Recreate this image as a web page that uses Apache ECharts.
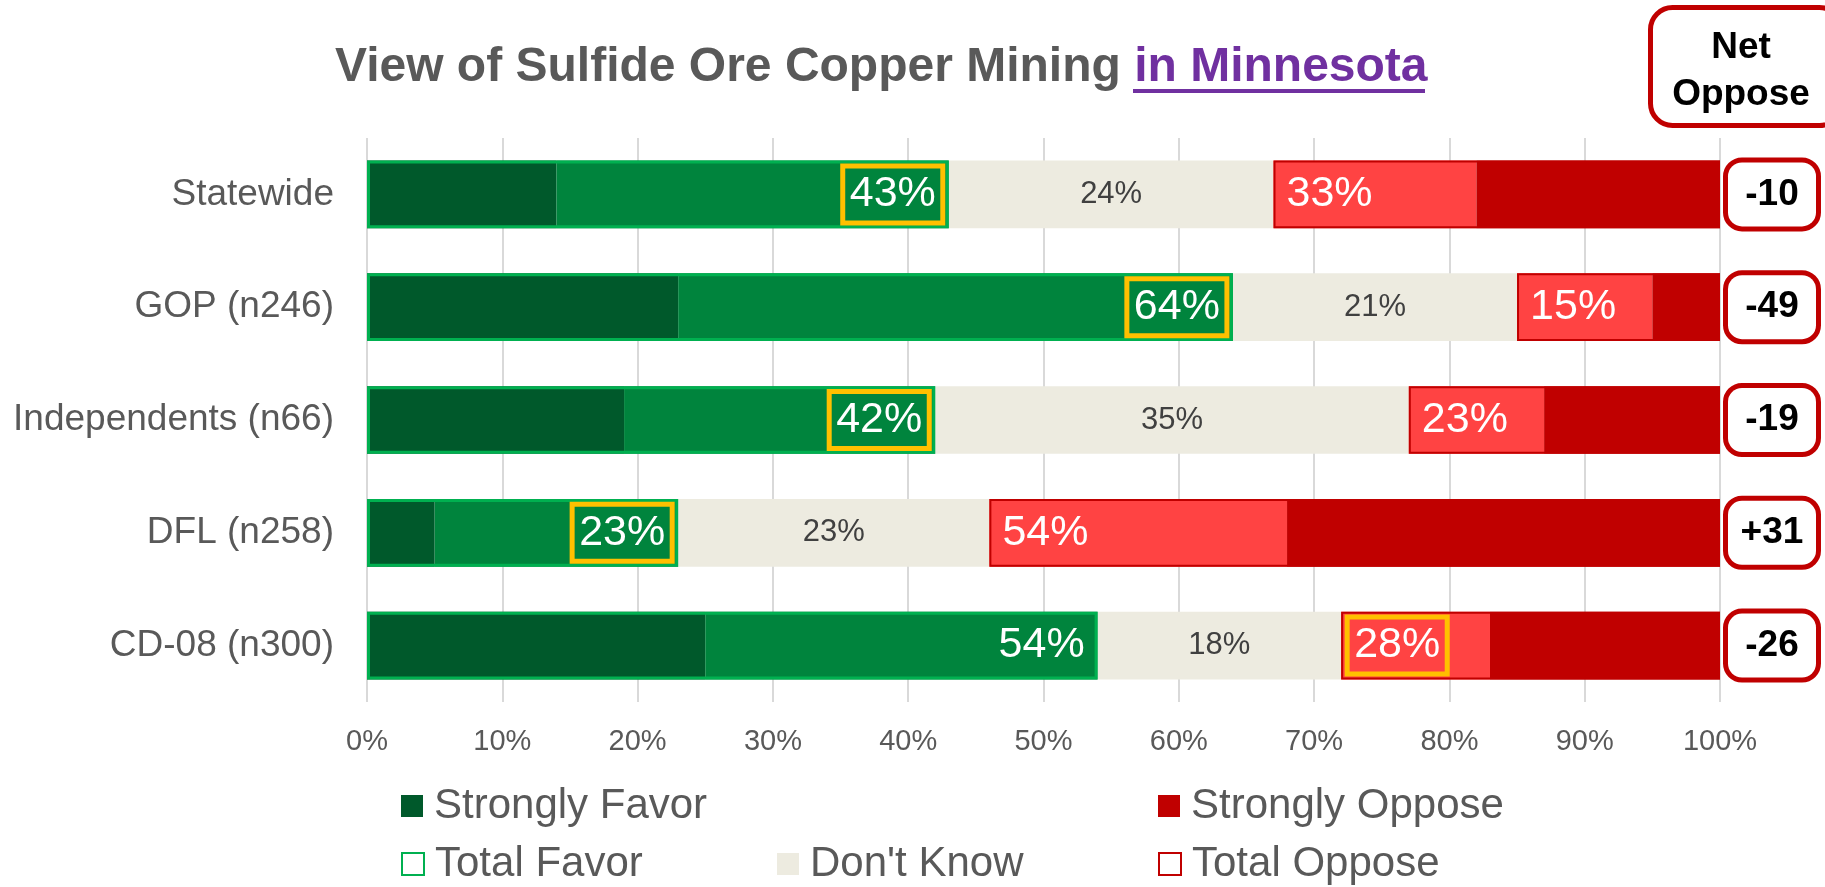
<!DOCTYPE html>
<html>
<head>
<meta charset="utf-8">
<title>View of Sulfide Ore Copper Mining in Minnesota</title>
<script src="https://cdn.jsdelivr.net/npm/echarts@6/dist/echarts.min.js"></script>
<style>
  html, body { margin: 0; padding: 0; background: #fff; }
  #chart { width: 1825px; height: 887px; }
</style>
</head>
<body>
<div id="chart"></div>
<script>
const categories = ['Statewide', 'GOP (n246)', 'Independents (n66)', 'DFL (n258)', 'CD-08 (n300)'];
const stronglyFavor = [14, 23, 19, 5, 25];
const totalFavor = [43, 64, 42, 23, 54];
const dontKnow = [24, 21, 35, 23, 18];
const totalOppose = [33, 15, 23, 54, 28];
const stronglyOppose = [18, 5, 13, 32, 17];
const netOppose = ['-10', '-49', '-19', '+31', '-26'];
// which total carries the yellow call-out box
const favorBoxed = [true, true, true, true, false];
const opposeBoxed = [false, false, false, false, true];

const FONT = "'Liberation Sans', Arial, sans-serif";
const GREY = '#595959';

const chart = echarts.init(document.getElementById('chart'));

function boxed(flag) {
  return {borderColor: flag ? '#FFC000' : 'rgba(0,0,0,0)'};
}

function bar(name, stack, data, itemStyle, extra) {
  return Object.assign({
    name: name,
    type: 'bar',
    stack: stack,
    data: data,
    barGap: '-100%',
    barCategoryGap: '40%',
    itemStyle: itemStyle,
    emphasis: {disabled: true}
  }, extra || {});
}

const totalLabel = {
  show: true,
  formatter: '{c}%',
  color: '#fff',
  fontSize: 43,
  lineHeight: 43,
  fontFamily: FONT,
  padding: [7, 7],
  borderWidth: 5,
  distance: 6
};

const legendRows = [
  {name: 'Strongly Favor', left: 401, top: 785},
  {name: 'Strongly Oppose', left: 1158, top: 785},
  {name: 'Total Favor', left: 401, top: 843},
  {name: "Don't Know", left: 777, top: 843},
  {name: 'Total Oppose', left: 1158, top: 843}
];

const option = {
  animation: false,
  textStyle: {fontFamily: FONT},
  title: [
    {
      text: '{a|View of Sulfide Ore Copper Mining }{b|in Minnesota}',
      left: 335,
      top: 44,
      padding: 0,
      textStyle: {
        rich: {
          a: {fontSize: 48, fontWeight: 'bold', color: GREY, fontFamily: FONT},
          b: {fontSize: 48, fontWeight: 'bold', color: '#7030A0', fontFamily: FONT}
        }
      }
    },
    {
      text: 'Net\nOppose',
      left: 1719,
      top: 7,
      textAlign: 'center',
      padding: [17, 32, 8, 22],
      borderColor: '#C00000',
      borderWidth: 5,
      borderRadius: 22,
      backgroundColor: '#fff',
      textStyle: {fontSize: 37, fontWeight: 'bold', color: '#000', lineHeight: 47, fontFamily: FONT}
    }
  ],
  graphic: [
    {type: 'rect', left: 1133, top: 89, shape: {width: 292, height: 4}, style: {fill: '#7030A0'}}
  ],
  legend: legendRows.map(r => ({
    data: [r.name],
    left: r.left,
    top: r.top,
    padding: 0,
    icon: 'rect',
    itemWidth: 22,
    itemHeight: 22,
    selectedMode: false,
    textStyle: {fontSize: 42, color: GREY, fontFamily: FONT, padding: [0, 0, 0, 6]}
  })),
  grid: {left: 367, right: 105, top: 138, bottom: 185},
  xAxis: {
    type: 'value',
    min: 0,
    max: 100,
    interval: 10,
    axisLine: {show: false},
    axisTick: {show: false},
    splitLine: {lineStyle: {color: '#D9D9D9', width: 2}},
    axisLabel: {formatter: '{value}%', fontSize: 29, color: GREY, margin: 25}
  },
  yAxis: [
    {
      type: 'category',
      inverse: true,
      data: categories,
      axisLine: {show: false},
      axisTick: {show: false},
      axisLabel: {fontSize: 37, color: GREY, margin: 33}
    },
    {
      type: 'category',
      inverse: true,
      position: 'right',
      data: netOppose,
      axisLine: {show: false},
      axisTick: {show: false},
      axisLabel: {
        margin: 52,
        align: 'center',
        fontSize: 37,
        fontWeight: 'bold',
        color: '#000',
        backgroundColor: '#fff',
        borderColor: '#C00000',
        borderWidth: 5,
        borderRadius: 14,
        width: 72,
        lineHeight: 40,
        padding: [10, 8, 14, 8]
      }
    }
  ],
  series: [
    bar('Strongly Favor', 'fill', stronglyFavor, {color: '#00592B'}),
    bar('Favor', 'fill', totalFavor.map((v, i) => v - stronglyFavor[i]), {color: '#00843D'}),
    bar("Don't Know", 'fill', dontKnow, {color: '#EDEBE0'}, {
      label: {show: true, position: 'inside', formatter: '{c}%', fontSize: 31, color: '#404040'}
    }),
    bar('Oppose', 'fill', totalOppose.map((v, i) => v - stronglyOppose[i]), {color: '#FF4343'}),
    bar('Strongly Oppose', 'fill', stronglyOppose, {color: '#C00000'}),
    bar('Total Favor', 'outline',
      totalFavor.map((v, i) => ({value: v, label: boxed(favorBoxed[i])})),
      {color: 'rgba(0,0,0,0)', borderColor: '#00B050', borderWidth: 3},
      {label: Object.assign({position: 'insideRight'}, totalLabel)}),
    bar('gap', 'outline', dontKnow, {color: 'rgba(0,0,0,0)'}, {silent: true}),
    bar('Total Oppose', 'outline',
      totalOppose.map((v, i) => ({value: v, label: boxed(opposeBoxed[i])})),
      {color: 'rgba(0,0,0,0)', borderColor: '#C00000', borderWidth: 2},
      {label: Object.assign({position: 'insideLeft'}, totalLabel)})
  ]
};

chart.setOption(option);
</script>
</body>
</html>
